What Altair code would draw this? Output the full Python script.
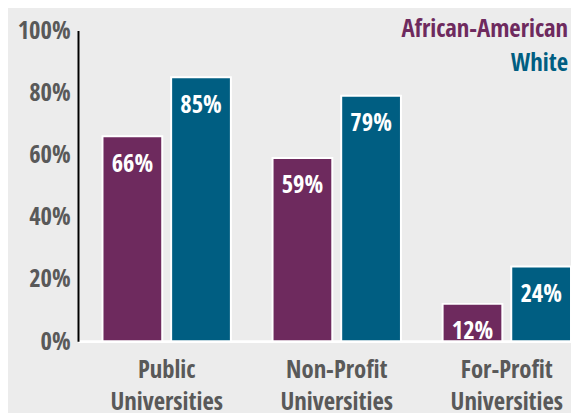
import altair as alt
import pandas as pd

categories = ["Public Universities", "Non-Profit Universities", "For-Profit Universities"]
groups = ["African-American", "White"]
aa_values = [66, 59, 12]
white_values = [85, 79, 24]
colors = ["#6e2a5e", "#005e82"]
y_ticks = [0, 20, 40, 60, 80, 100]

rows = []
for c, a, w in zip(categories, aa_values, white_values):
    rows.append({"category": c, "group": groups[0], "value": a})
    rows.append({"category": c, "group": groups[1], "value": w})
df = pd.DataFrame(rows)
legend_df = pd.DataFrame({"group": groups})

FONT = "Open Sans Condensed"
FS = 25
GREY = "#595959"

x = alt.X(
    "category:N", sort=categories, title=None,
    scale=alt.Scale(paddingInner=0.245, paddingOuter=0.072, align=1),
    axis=alt.Axis(labelAngle=0, labelExpr="split(datum.label, ' ')", labelFont=FONT,
                  labelFontSize=FS, labelFontWeight="bold", labelColor=GREY,
                  labelLineHeight=32, labelPadding=17, ticks=False,
                  domainColor="white", domainWidth=3, labelBaseline="top"),
)
xo = alt.XOffset("group:N", sort=groups, scale=alt.Scale(paddingInner=0.13, paddingOuter=0))
y = alt.Y(
    "value:Q", title=None, scale=alt.Scale(domain=[0, 100]),
    axis=alt.Axis(values=y_ticks, labelExpr="datum.value + '%'", grid=False, ticks=False,
                  domainColor="black", domainWidth=2, labelFont=FONT, labelFontSize=FS,
                  labelFontWeight="bold", labelColor=GREY, labelPadding=8),
)
color = alt.Color("group:N", sort=groups, scale=alt.Scale(domain=groups, range=colors), legend=None)

bars = alt.Chart(df).mark_bar(stroke="white", strokeWidth=2).encode(x=x, xOffset=xo, y=y, color=color)
labels = alt.Chart(df).transform_calculate(label="datum.value + '%'").mark_text(
    baseline="middle", dy=28, color="white", font=FONT, fontSize=FS, fontWeight="bold"
).encode(x=x, xOffset=xo, y=y, text="label:N")

leg1 = alt.Chart(legend_df).transform_filter(alt.datum.group == groups[0]).mark_text(
    align="right", baseline="middle", font=FONT, fontSize=FS, fontWeight="bold"
).encode(x=alt.value(497), y=alt.value(-1), text="group:N", color=color)
leg2 = alt.Chart(legend_df).transform_filter(alt.datum.group == groups[1]).mark_text(
    align="right", baseline="middle", font=FONT, fontSize=FS, fontWeight="bold"
).encode(x=alt.value(497), y=alt.value(33), text="group:N", color=color)

chart = alt.layer(bars, labels, leg1, leg2).properties(
    width=500, height=315,
    autosize=alt.AutoSizeParams(type="none"),
    padding={"left": 71, "top": 20, "right": 0, "bottom": 70},
    background="#ececec",
).configure_view(stroke=None)

chart.save("out.html", embed_options={"renderer": "svg", "actions": False})
